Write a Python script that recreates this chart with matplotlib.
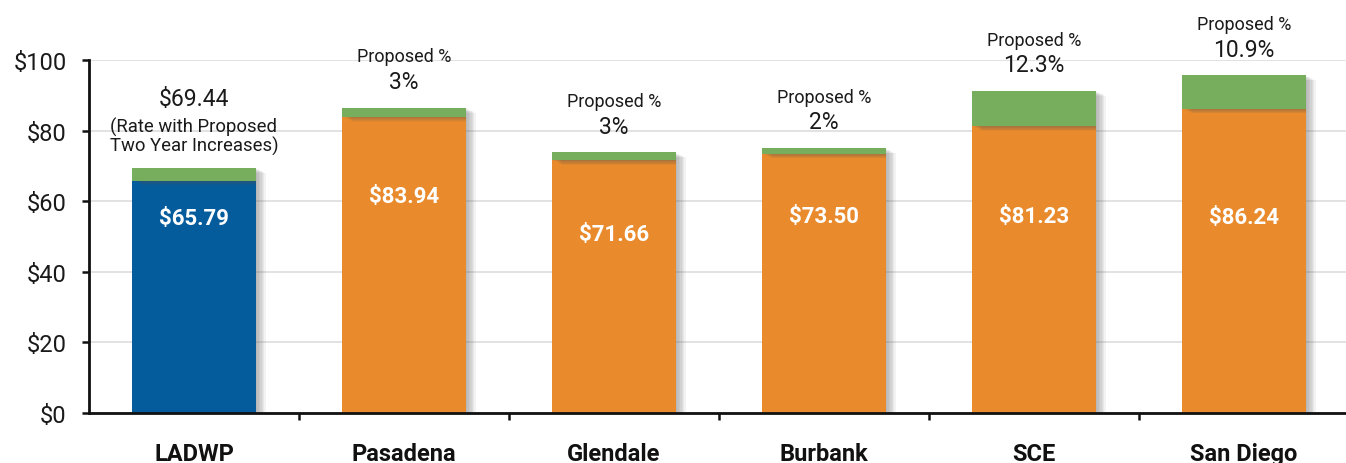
import matplotlib
matplotlib.use("Agg")
import matplotlib.pyplot as plt
import matplotlib.patheffects as pe

categories = ["LADWP", "Pasadena", "Glendale", "Burbank", "SCE", "San Diego"]
current_rate = [65.79, 83.94, 71.66, 73.50, 81.23, 86.24]
proposed_total = [69.44, 86.46, 73.81, 74.97, 91.22, 95.64]
proposed_pct = [None, "3%", "3%", "2%", "12.3%", "10.9%"]
value_labels = ["$65.79", "$83.94", "$71.66", "$73.50", "$81.23", "$86.24"]
yticks = [0, 20, 40, 60, 80, 100]
ytick_labels = ["$0", "$20", "$40", "$60", "$80", "$100"]

# layout: vertical positions of the white value labels (data units)
value_label_y = [55.2, 61.5, 50.7, 55.8, 55.8, 55.5]

BLUE = "#045C9D"
ORANGE = "#E98B2D"
GREEN = "#76AE5D"
FONT = ["Roboto", "DejaVu Sans"]
plt.rcParams["font.family"] = FONT

fig = plt.figure(figsize=(13.46, 4.64), dpi=100)
ax = fig.add_axes([89 / 1346, 50 / 464, 1260 / 1346, 353 / 464])

x = list(range(len(categories)))
width = 0.59
base_colors = [BLUE] + [ORANGE] * (len(categories) - 1)
increase = [t - c for t, c in zip(proposed_total, current_rate)]

shadow = [pe.SimplePatchShadow(offset=(k, -k * 0.5), shadow_rgbFace="#555555", alpha=0.07)
          for k in range(1, 8)] + [pe.Normal()]
b1 = ax.bar(x, current_rate, width=width, color=base_colors, zorder=3)
b2 = ax.bar(x, increase, bottom=current_rate, width=width, color=GREEN, zorder=3)
for p in list(b1) + list(b2):
    p.set_path_effects(shadow)

for i in x:
    ax.text(i, value_label_y[i], value_labels[i], color="white", fontsize=16,
            fontweight="bold", ha="center", va="center", zorder=5)
    if proposed_pct[i] is not None:
        ax.annotate("Proposed %", (i, proposed_total[i]), xytext=(0, 37),
                    textcoords="offset points", ha="center", va="center",
                    fontsize=13, color="#1a1a1a")
        ax.annotate(proposed_pct[i], (i, proposed_total[i]), xytext=(0, 19),
                    textcoords="offset points", ha="center", va="center",
                    fontsize=16.5, color="#1a1a1a")

ax.text(0, 89, "$69.44", ha="center", va="center", fontsize=16.5, color="#1a1a1a")
ax.text(0, 81.3, "(Rate with Proposed", ha="center", va="center", fontsize=13.3, color="#1a1a1a")
ax.text(0, 75.9, "Two Year Increases)", ha="center", va="center", fontsize=13.3, color="#1a1a1a")

ax.set_xlim(-0.5, 5.5)
ax.set_ylim(0, 100)
ax.set_yticks(yticks)
ax.set_yticklabels(ytick_labels, fontsize=17, color="#1a1a1a")
ax.set_xticks(x)
ax.set_xticklabels(categories, fontsize=17, fontweight="bold", color="#111111")
ax.set_xticks([i + 0.5 for i in x], minor=True)
ax.tick_params(axis="x", which="major", length=0, pad=21)
ax.tick_params(axis="x", which="minor", length=5, width=1.8, direction="out", color="#111111")
ax.tick_params(axis="y", length=5, width=1.8, direction="out", color="#111111", pad=11)

ax.grid(axis="y", color="#DDDDDD", linewidth=1.2, zorder=0)
ax.set_axisbelow(True)
for s in ["top", "right"]:
    ax.spines[s].set_visible(False)
for s in ["left", "bottom"]:
    ax.spines[s].set_linewidth(2)
    ax.spines[s].set_color("#111111")
ax.spines["left"].set_zorder(6)
ax.spines["bottom"].set_zorder(6)

fig.savefig("out.png", dpi=100)
